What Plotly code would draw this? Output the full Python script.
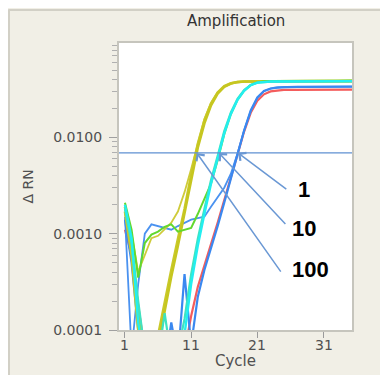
import plotly.graph_objects as go
import math

# ---------------- data ----------------
cycles = list(range(1, 37))

yellow_a = [0.0019, 0.0009, 0.00015, 0.00004, 0.00003, 0.00007, 0.00017, 0.00036, 0.00075, 0.0016,
            0.0037, 0.0078, 0.0140, 0.0215, 0.0285, 0.0335, 0.0362, 0.0375, 0.0380, 0.0381,
            0.0381, 0.0382, 0.0382, 0.0382, 0.0383, 0.0383, 0.0383, 0.0383, 0.0384, 0.0384,
            0.0384, 0.0384, 0.0384, 0.0385, 0.0385, 0.0385]
yellow_b = [0.0017, 0.0006, 0.0001, 0.00003, 0.00004, 0.00009, 0.0002, 0.00042, 0.00088, 0.0018,
            0.0041, 0.0085, 0.0150, 0.0225, 0.0292, 0.0340, 0.0365, 0.0376, 0.0380, 0.0381,
            0.0381, 0.0381, 0.0382, 0.0382, 0.0382, 0.0382, 0.0383, 0.0383, 0.0383, 0.0383,
            0.0383, 0.0383, 0.0384, 0.0384, 0.0384, 0.0384]
yellow_c = [0.0016, 0.0010, 0.0004, 0.0006, 0.0009, 0.00095, 0.0011, 0.0013, 0.0017, 0.0027,
            0.0047, 0.0088, 0.0155, 0.0228, 0.0293, 0.0338, 0.0362, 0.0374, 0.0378, 0.0379,
            0.0380, 0.0380, 0.0380, 0.0381, 0.0381, 0.0381, 0.0381, 0.0382, 0.0382, 0.0382,
            0.0382, 0.0382, 0.0382, 0.0383, 0.0383, 0.0383]
green = [0.0021, 0.0011, 0.00035, 0.0008, 0.00098, 0.00105, 0.00118, 0.00125, 0.00105, 0.0011,
         0.00115, 0.0016, 0.0023, 0.0033, 0.0058, 0.0108, 0.0175, 0.0245, 0.0305, 0.0350,
         0.0372, 0.0382, 0.0385, 0.0386, 0.0386, 0.0387, 0.0387, 0.0387, 0.0387, 0.0388,
         0.0388, 0.0388, 0.0388, 0.0388, 0.0389, 0.0389]
cyan_a = [0.0020, 0.0009, 0.00012, 0.00004, 0.00003, 0.00003, 0.00003, 0.00003, 0.00004, 0.00009,
          0.00030, 0.00075, 0.0016, 0.0033, 0.0060, 0.0110, 0.0175, 0.0245, 0.0305, 0.0348,
          0.0370, 0.0378, 0.0380, 0.0381, 0.0381, 0.0382, 0.0382, 0.0382, 0.0382, 0.0383,
          0.0383, 0.0383, 0.0383, 0.0383, 0.0384, 0.0384]
cyan_b = [0.0018, 0.0008, 0.0002, 0.00006, 0.00003, 0.00005, 0.00015, 0.00005, 0.00006, 0.00013,
          0.00038, 0.00088, 0.0018, 0.0036, 0.0064, 0.0116, 0.0182, 0.0252, 0.0310, 0.0350,
          0.0370, 0.0377, 0.0378, 0.0379, 0.0379, 0.0380, 0.0380, 0.0380, 0.0380, 0.0381,
          0.0381, 0.0381, 0.0381, 0.0381, 0.0382, 0.0382]
red = [0.0011, 0.0006, 0.00018, 0.00006, 0.00003, 0.00003, 0.00003, 0.00003, 0.00003, 0.00006,
       0.00014, 0.00028, 0.00048, 0.00078, 0.0013, 0.0022, 0.0038, 0.0066, 0.0115, 0.0180,
       0.0240, 0.0280, 0.0300, 0.0308, 0.0311, 0.0312, 0.0312, 0.0312, 0.0313, 0.0313,
       0.0313, 0.0313, 0.0313, 0.0314, 0.0314, 0.0314]
blue_a = [0.0014, 0.0005, 0.0001, 0.00003, 0.00003, 0.00003, 0.00004, 0.00012, 0.00005, 0.00038,
          0.00007, 0.00022, 0.00042, 0.0007, 0.0012, 0.0021, 0.0037, 0.0065, 0.0118, 0.0190,
          0.0260, 0.0303, 0.0322, 0.0330, 0.0333, 0.0335, 0.0335, 0.0335, 0.0336, 0.0336,
          0.0336, 0.0336, 0.0336, 0.0337, 0.0337, 0.0337]
blue_b = [0.0015, 0.00006, 0.0003, 0.0010, 0.00125, 0.0012, 0.00115, 0.0011, 0.0012, 0.0013,
          0.0014, 0.00145, 0.0015, 0.0019, 0.0024, 0.0030, 0.0042, 0.0068, 0.0118, 0.0188,
          0.0258, 0.0302, 0.0321, 0.0329, 0.0332, 0.0334, 0.0334, 0.0334, 0.0335, 0.0335,
          0.0335, 0.0335, 0.0335, 0.0336, 0.0336, 0.0336]

threshold = 0.0069
dilution_labels = ["1", "10", "100"]
crossing_cycles = [18.1, 15.2, 11.85]

x_ticks = [1, 11, 21, 31]
x_ticktext = ["1", "11", "21", "31"]
y_ticks = [0.0001, 0.001, 0.01]
y_ticktext = ["0.0001", "0.0010", "0.0100"]
y_minor = [m * 10 ** e for e in (-4, -3, -2) for m in range(2, 10)]

# ---------------- styling ----------------
BEIGE = "#F1EFE6"
FRAME = "#C6C5BD"
ARROW = "#6A98D4"
TICKFONT = dict(family="DejaVu Sans", size=14, color="#505050")

series = [
    (red, "#F45C5C", 2.2),
    (blue_b, "#4A92F0", 1.8),
    (blue_a, "#3A88F0", 2.2),
    (yellow_c, "#CFCB3A", 1.8),
    (yellow_b, "#C9C92A", 2.6),
    (yellow_a, "#C6C620", 2.6),
    (green, "#62D82E", 2.0),
    (cyan_b, "#3FE3C0", 2.2),
    (cyan_a, "#22EEF0", 2.4),
]

fig = go.Figure()
for vals, col, w in series:
    fig.add_trace(go.Scatter(x=cycles, y=vals, mode="lines",
                             line=dict(color=col, width=w), hoverinfo="skip"))

X_RANGE = [0.1, 35.3]
fig.add_trace(go.Scatter(x=X_RANGE, y=[threshold, threshold], mode="lines",
                         line=dict(color="#5F90D2", width=1.3), hoverinfo="skip"))

# The page has an 8px body margin, so the figure is 380x367 and
# page pixel positions are shifted by 8.
OFF = 8
W, H = 388 - OFF, 375 - OFF
L, R, T, B = 111, 36, 35, 45
PW, PH = W - L - R, H - T - B


def px(xp):  # page pixel -> paper fraction
    return (xp - OFF - L) / PW


def py(yp):
    return (H - B - (yp - OFF)) / PH


# arrow tails and label anchors (data coordinates)
tails = [(25.6, -2.55), (25.45, -2.915), (24.7, -3.41)]
label_pos = [(28.0, -2.54), (28.0, -2.945), (29.1, -3.37)]

annotations = []
for lab, cx, (tx, ty), (lx, ly) in zip(dilution_labels, crossing_cycles, tails, label_pos):
    annotations.append(dict(x=cx, y=math.log10(threshold), xref="x", yref="y",
                            ax=tx, ay=ty, axref="x", ayref="y", text="",
                            showarrow=True, arrowhead=4, arrowsize=1.3,
                            arrowwidth=1.5, arrowcolor=ARROW))
    annotations.append(dict(x=lx, y=ly, xref="x", yref="y", text="<b>%s</b>" % lab,
                            showarrow=False, xanchor="center", yanchor="middle",
                            font=dict(family="Liberation Sans, Arial", size=22, color="black")))

# x tick labels placed explicitly (reference has them tight under the ticks)
for tv, tt in zip(x_ticks, x_ticktext):
    annotations.append(dict(x=tv, y=py(344.5), xref="x", yref="paper", text=tt,
                            showarrow=False, xanchor="center", yanchor="middle",
                            font=TICKFONT))

annotations += [
    dict(x=0.5, y=py(21), xref="paper", yref="paper", text="Amplification", showarrow=False,
         xanchor="center", yanchor="middle", font=dict(family="DejaVu Sans", size=15, color="#333333")),
    dict(x=0.5, y=py(360.5), xref="paper", yref="paper", text="Cycle", showarrow=False,
         xanchor="center", yanchor="middle", font=dict(family="DejaVu Sans", size=15, color="#505050")),
    dict(x=px(27), y=0.5, xref="paper", yref="paper", text="Δ RN", showarrow=False, textangle=-90,
         xanchor="center", yanchor="middle", font=dict(family="DejaVu Sans", size=14, color="#505050")),
]

shapes = [
    dict(type="line", xref="paper", yref="paper", x0=px(9), x1=px(9), y0=py(9.5), y1=py(380),
         line=dict(color="#D2D0C6", width=2), layer="below"),
    dict(type="line", xref="paper", yref="paper", x0=px(8.5), x1=px(395), y0=py(10), y1=py(10),
         line=dict(color="#D2D0C6", width=2), layer="below"),
]

fig.update_layout(
    width=W, height=H,
    margin=dict(l=L, r=R, t=T, b=B, pad=0),
    paper_bgcolor=BEIGE, plot_bgcolor="white",
    showlegend=False,
    annotations=annotations,
    shapes=shapes,
    xaxis=dict(range=X_RANGE, tickmode="array", tickvals=x_ticks, ticks="outside",
               ticklen=6, tickwidth=1, tickcolor="#9A9A9A", showticklabels=False,
               showgrid=False, zeroline=False, showline=True, linecolor=FRAME,
               linewidth=2, mirror=True),
    yaxis=dict(type="log", range=[-4, -1.02], tickmode="array", tickvals=y_ticks,
               ticktext=y_ticktext, ticks="outside", ticklen=8, tickwidth=1,
               tickcolor="#A0A0A0", tickfont=TICKFONT, ticklabelstandoff=4,
               showgrid=False, zeroline=False,
               showline=True, linecolor=FRAME, linewidth=2, mirror=True,
               minor=dict(tickmode="array", tickvals=y_minor, ticks="outside", ticklen=5,
                          tickwidth=1, tickcolor="#B0B0B0", showgrid=False)),
)

fig.write_html("out.html", config={"displayModeBar": False})
